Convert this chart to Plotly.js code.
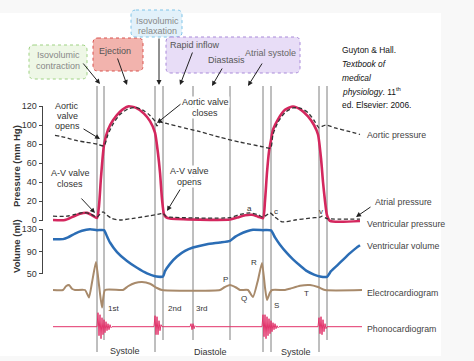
<!DOCTYPE html>
<html><head><meta charset="utf-8">
<script src="https://cdn.plot.ly/plotly-3.0.1.min.js"></script>
<style>html,body{margin:0;padding:0;background:#fff}#chart{width:474px;height:361px}</style>
</head><body><div id="chart"></div>
<script>
// Time in ms (one cardiac cycle ≈ 830 ms); 0 = A-V valve closure of cycle 1
const eventTimes = [0, 35, 290, 330, 480, 665, 830, 870, 1110, 1150];

const ventTime = [-220,-160,-125,-85,-50,-25,0,10,20,35,55,80,115,155,195,235,265,290,305,315,325,335,345,365,665,700,740,775,805,830,840,850,860,870,880,905,940,980,1020,1055,1085,1105,1120,1130,1140,1150,1165,1315];
const ventPressure = [0,0,3,6.5,7.5,5,2,15,45,79,95,105,114,119.5,118,112,104,92,70,50,22,6,3,1.5,0.5,2.5,5,5.5,3.5,2,20,50,72,84,95,106,116,119.5,116,109,100,90,65,40,20,5,-1,-1];

const aorticTime = [-210,-160,-110,-60,0,35,55,80,115,155,195,235,265,290,300,315,340,415,515,615,715,830,868,880,905,940,980,1020,1055,1085,1110,1125,1145,1190,1265,1315];
const aorticPressure = [89,87,84,82,80,78,90,101,111,117,118.5,115,110,104,99,103,102,98,93,87,82,77,75.5,90,103,113,118,117.5,113,105,97,98.5,100,97,93,90];

const atrialTime = [-220,-150,-110,-65,-35,0,15,30,50,75,115,190,265,315,330,345,365,665,715,765,805,830,850,865,890,925,990,1065,1115,1125,1150,1315];
const atrialPressure = [4,4,6,7.8,6.5,3,6,8.5,5,1.5,0,2,4.5,6.5,7,4,3,2.5,6,7.5,5.5,3,5.5,7.5,3,-2,0,2,3,4,1.5,1];

const volTime = [-220,-170,-145,-110,-75,-35,0,35,50,65,100,150,200,250,290,330,340,365,400,440,480,550,615,665,690,715,750,780,830,870,890,915,950,980,1015,1050,1085,1115,1150,1170,1200,1235,1265,1295,1315];
const ventVolume = [112,112,115,122,127,129.5,128,128,117,106,89,73,61,51,46,45.5,55,68,81,91,97,103,106,109,116,121,126,128.5,128,127.5,115,102,87,76,65,55,49,45.5,45,55,65,77,87,96,101];

const ecgTime = [-220,-170,-155,-140,-125,-110,-60,-40,-25,-5,10,25,40,130,155,190,225,265,300,325,615,635,665,695,715,755,780,805,825,840,850,865,875,940,965,1015,1065,1105,1140,1325];
const ecgMv = [0,0,0.15,0.2,0.05,0,0,-0.3,0.3,1.12,0.2,-0.7,0,0,0.15,0.28,0.32,0.25,0.08,0,0,0.1,0.2,0.1,0,0,-0.28,0.4,1.08,0.1,-0.4,-0.1,0,0,0.05,0.17,0.2,0.12,0,0];

const phonoTime = [-220,
  0,5,10,15,20,25,30,35,40,45,50,55,60,65,70,75,
  285,290,295,300,305,310,315,320,325,
  465,470,475,480,485,490,495,
  825,830,835,840,845,850,855,860,865,870,875,880,885,890,895,900,905,910,
  1105,1110,1115,1120,1125,1130,1135,1140,1145,1150,
  1325];
const phonoAmp = [0,
  0,14,-9,12,-12,9,-8,7,-6,5,-4,3,-3,2,-1,0,
  0,11,-8,10,-8,6,-4,2,0,
  0,3,-3,3,-2,1,0,
  0,12,-10,12,-12,10,-9,8,-7,6,-5,4,-3,3,-2,1,-1,0,
  0,9,-7,10,-8,7,-5,3,-2,0,
  0];

const pressureTicks = [0,20,40,60,80,100,120];
const volumeTicks = [50,90,130];

// ---------- layout helpers (pixel -> paper) ----------
const W = 474, H = 361;
const X = p => p / W;
const Y = p => 1 - p / H;
const FONT = 'Liberation Sans, Arial, sans-serif';

const traces = [
  {x: ventTime, y: ventPressure, xaxis:'x', yaxis:'y', mode:'lines',
   line:{color:'#d4275e', width:2.6, shape:'spline', smoothing:0.6}},
  {x: aorticTime, y: aorticPressure, xaxis:'x', yaxis:'y', mode:'lines',
   line:{color:'#333', width:1.3, dash:'4px,2.5px', shape:'spline', smoothing:0.6}},
  {x: atrialTime, y: atrialPressure, xaxis:'x', yaxis:'y', mode:'lines',
   line:{color:'#333', width:1.3, dash:'4px,2.5px', shape:'spline', smoothing:0.6}},
  {x: volTime, y: ventVolume, xaxis:'x', yaxis:'y2', mode:'lines',
   line:{color:'#2b6db5', width:2.5, shape:'spline', smoothing:0.5}},
  {x: ecgTime, y: ecgMv, xaxis:'x', yaxis:'y3', mode:'lines',
   line:{color:'#a88a6b', width:2, shape:'spline', smoothing:0.5}},
  {x: phonoTime, y: phonoAmp, xaxis:'x', yaxis:'y4', mode:'lines',
   line:{color:'#e2336b', width:1}}
];

const shapes = [];
// white panel
shapes.push({type:'rect', xref:'paper', yref:'paper', x0:0, x1:X(441), y0:Y(356), y1:Y(13),
  fillcolor:'#ffffff', line:{width:0}, layer:'below'});

function roundRect(x0,y0,x1,y1,r){
  return `M ${X(x0+r)},${Y(y0)} L ${X(x1-r)},${Y(y0)} Q ${X(x1)},${Y(y0)} ${X(x1)},${Y(y0+r)} `+
         `L ${X(x1)},${Y(y1-r)} Q ${X(x1)},${Y(y1)} ${X(x1-r)},${Y(y1)} `+
         `L ${X(x0+r)},${Y(y1)} Q ${X(x0)},${Y(y1)} ${X(x0)},${Y(y1-r)} `+
         `L ${X(x0)},${Y(y0+r)} Q ${X(x0)},${Y(y0)} ${X(x0+r)},${Y(y0)} Z`;
}
function box(x0,y0,x1,y1,fill,border){
  shapes.push({type:'path', xref:'paper', yref:'paper', path:roundRect(x0,y0,x1,y1,5),
    fillcolor:fill, line:{color:border, width:1, dash:'dot'}, layer:'below'});
}
box(29,45,87,79,'#eef7e6','#9fd283');
box(93,38,143,71,'#f2b3ad','#d9534f');
box(131,10,182,37,'#e2f1fa','#7fc4e8');
box(166,37,300,73,'#e8ddf7','#a98ad9');

// vertical phase lines
const lineBottoms = [352,340,352,340,340,340,352,352,352,340];
eventTimes.forEach((t,i)=>{
  shapes.push({type:'line', xref:'x', yref:'paper', x0:t, x1:t, y0:Y(lineBottoms[i]), y1:Y(86),
    line:{color:'#7f7f7f', width:1}, layer:'below'});
});
// axis lines
shapes.push({type:'line', xref:'paper', yref:'y', x0:X(42.5), x1:X(42.5), y0:0, y1:120, line:{color:'#444', width:1}});
shapes.push({type:'line', xref:'paper', yref:'y2', x0:X(42.5), x1:X(42.5), y0:50, y1:130, line:{color:'#444', width:1}});

const annotations = [];
function txt(s, px, py, o={}){
  annotations.push(Object.assign({text:s, xref:'paper', yref:'paper', x:X(px), y:Y(py),
    xanchor:'center', yanchor:'middle', showarrow:false,
    font:{family:FONT, size:9, color:'#333'}}, o));
}
function lines(arr, cx, cy, dy, o={}){
  arr.forEach((s,i)=>txt(s, cx, cy+i*dy, o));
}
function arrow(tx,ty,hx,hy){
  annotations.push({text:'', xref:'paper', yref:'paper', x:X(hx), y:Y(hy),
    ax:tx-hx, ay:ty-hy, axref:'pixel', ayref:'pixel', showarrow:true,
    arrowhead:2, arrowsize:1, arrowwidth:1, arrowcolor:'#222', standoff:0, startstandoff:0});
}

// phase box texts
lines(['Isovolumic','contraction'], 58, 55.5, 10.5, {font:{family:FONT,size:9,color:'#888'}});
txt('Ejection', 115, 51, {font:{family:FONT,size:9,color:'#555'}});
lines(['Isovolumic','relaxation'], 157, 21, 10.5, {font:{family:FONT,size:9,color:'#888'}});
txt('Rapid inflow', 195, 45, {font:{family:FONT,size:9,color:'#555'}});
txt('Diastasis', 226, 60, {font:{family:FONT,size:9,color:'#555'}});
txt('Atrial systole', 270, 53, {font:{family:FONT,size:9,color:'#666'}});
arrow(82,62,100,84);
arrow(117,57,127,85);
arrow(159,37,159,85);
arrow(193,51,180,85);
arrow(223,67,212,86);
arrow(263,62,248,86);

// citation
const cit = {xanchor:'left', font:{family:FONT, size:8.4, color:'#111'}};
txt('Guyton &amp; Hall.', 340, 50, cit);
txt('<i>Textbook of</i>', 340, 64, cit);
txt('<i>medical</i>', 340, 78, cit);
txt('<i>physiology</i>. 11<sup>th</sup>', 340, 91, cit);
txt('ed. Elsevier: 2006.', 340, 105, cit);

// valve labels
lines(['Aortic','valve','opens'], 67, 106, 10);
arrow(82,128,100,139);
lines(['A-V valve','closes'], 70, 173, 10.5);
arrow(80,197,95,213);
lines(['Aortic valve','closes'], 205, 102, 10.5, {bgcolor:'#ffffff', borderpad:0});
arrow(182,103,157,123);
lines(['A-V valve','opens'], 189, 171, 10.5, {bgcolor:'#ffffff', borderpad:0});
arrow(181,188,167,211);

// wave letters
const small = {font:{family:FONT, size:8, color:'#333'}};
txt('a', 249, 208, small);
txt('c', 276, 211, small);
txt('v', 321, 211, small);
txt('P', 225, 279, small);
txt('Q', 244, 298, small);
txt('R', 254, 262, small);
txt('S', 276, 305, small);
txt('T', 306, 293, small);
txt('1st', 113, 308, small);
txt('2nd', 174, 308, small);
txt('3rd', 202, 308, small);

// phase bottom labels
txt('Systole', 125, 351);
txt('Diastole', 210, 352);
txt('Systole', 296, 352);

// right-hand curve labels
const rl = {xanchor:'left', font:{family:FONT, size:8.8, color:'#444'}};
txt('Aortic pressure', 365, 135, rl);
txt('Atrial pressure', 373, 202, rl);
arrow(372,206,356,217);
txt('Ventricular pressure', 365, 224, rl);
txt('Ventricular volume', 365, 246, rl);
txt('Electrocardiogram', 365, 293, rl);
txt('Phonocardiogram', 365, 329, rl);

// axis titles
txt('<b>Pressure (mm Hg)</b>', 16, 166, {textangle:-90, font:{family:FONT, size:9.5, color:'#333'}});
txt('<b>Volume (ml)</b>', 16, 246, {textangle:-90, font:{family:FONT, size:9.5, color:'#333'}});

const tickStyle = {ticks:'outside', ticklen:4, tickwidth:1, tickcolor:'#444',
  tickfont:{family:FONT, size:9, color:'#333'}, showgrid:false, zeroline:false, showline:false,
  anchor:'free', position:X(42.5), fixedrange:true};

const layout = {
  width:W, height:H, margin:{l:0,r:0,t:0,b:0},
  paper_bgcolor:'#f8f8f8', plot_bgcolor:'rgba(0,0,0,0)', showlegend:false,
  xaxis:{range:[-485,1885], domain:[0,1], visible:false, fixedrange:true},
  yaxis: Object.assign({range:[-4,126], domain:[Y(223.8), Y(100.3)], tickmode:'array', tickvals:pressureTicks}, tickStyle),
  yaxis2: Object.assign({range:[40,135], domain:[Y(279.6), Y(226.2)], tickmode:'array', tickvals:volumeTicks}, tickStyle),
  yaxis3:{range:[-1,1.5], domain:[Y(315), Y(252.5)], visible:false, fixedrange:true},
  yaxis4:{range:[-15,15], domain:[Y(341.7), Y(311.7)], visible:false, fixedrange:true},
  shapes, annotations
};

Plotly.newPlot('chart', traces, layout, {displayModeBar:false, staticPlot:true});
</script></body></html>
